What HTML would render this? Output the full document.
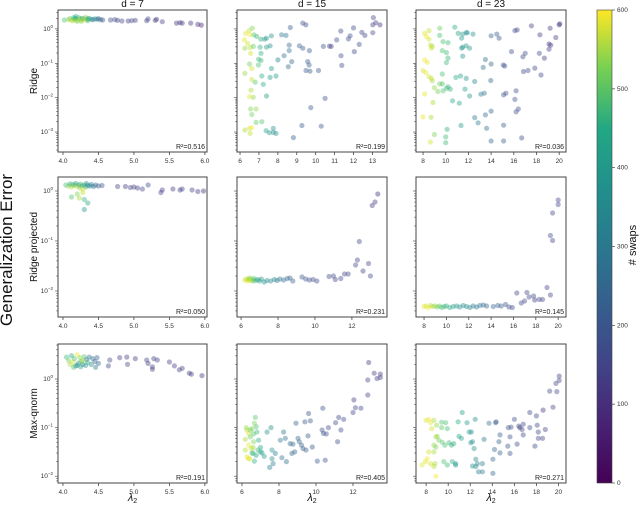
<!DOCTYPE html>
<html><head><meta charset="utf-8"><style>
body{margin:0;background:#fff}
svg{display:block;font-family:"Liberation Sans","DejaVu Sans",sans-serif}
</style></head><body>
<svg id="c" width="640" height="505" viewBox="0 0 640 505">
<defs><linearGradient id="vir" x1="0" y1="1" x2="0" y2="0">
<stop offset="0" stop-color="#440154"/><stop offset="0.13" stop-color="#482475"/><stop offset="0.25" stop-color="#414487"/><stop offset="0.38" stop-color="#355f8d"/><stop offset="0.5" stop-color="#2a788e"/><stop offset="0.63" stop-color="#21918c"/><stop offset="0.75" stop-color="#22a884"/><stop offset="0.88" stop-color="#7ad151"/><stop offset="1" stop-color="#fde725"/></linearGradient></defs>
<text x="12" y="250" font-size="17" fill="#111" text-anchor="middle" transform="rotate(-90 12 250)">Generalization Error</text>
<text x="636" y="245" font-size="11" fill="#111" text-anchor="middle" transform="rotate(-90 636 245)"># swaps</text>
</svg>
<script>
const colTitles=["d = 7","d = 15","d = 23"];
const rowTitles=["Ridge","Ridge projected","Max-qnorm"];
const r2Labels=["R²=0.516","R²=0.199","R²=0.036","R²=0.050","R²=0.231","R²=0.145","R²=0.191","R²=0.405","R²=0.271"];
const cbTicks=[0,100,200,300,400,500,600];
const xTicks1=[4.0,4.5,5.0,5.5,6.0];
const xTicks2a=[6,7,8,9,10,11,12,13];
const xTicks2b=[6,8,10,12];
const xTicks3=[8,10,12,14,16,18,20];
const yTicksR1=[0,-1,-2,-3];
const yTicksR23=[0,-1,-2];
// each point: [lambda2, log10(error), swaps]
const p11=[[4.02,0.26,420],[4.08,0.27,500],[4.1,0.3,450],[4.12,0.25,560],[4.15,0.32,380],[4.16,0.28,420],[4.18,0.3,360],[4.2,0.26,540],[4.22,0.33,400],[4.24,0.29,470],[4.25,0.25,580],[4.27,0.31,330],[4.28,0.27,520],[4.3,0.3,440],[4.32,0.34,500],[4.33,0.26,560],[4.35,0.29,300],[4.37,0.31,350],[4.4,0.28,320],[4.42,0.27,250],[4.45,0.29,280],[4.48,0.28,240],[4.5,0.3,220],[4.53,0.27,180],[4.56,0.26,150],[4.2,0.22,470],[4.14,0.24,530],[4.26,0.22,490],[4.35,0.24,400],[4.18,0.36,370],[4.67,0.26,130],[4.73,0.27,120],[4.77,0.25,110],[4.83,0.23,120],[4.92,0.23,110],[4.97,0.24,120],[5.02,0.25,110],[5.18,0.24,110],[5.2,0.29,120],[5.3,0.25,100],[5.32,0.28,110],[5.4,0.21,110],[5.6,0.17,100],[5.65,0.18,90],[5.68,0.17,100],[5.8,0.17,90],[5.9,0.13,80],[5.95,0.11,60]];
const p12=[[6.65,0.02,480],[6.48,-0.05,540],[6.3,-0.13,570],[6.53,-0.17,590],[6.74,-0.17,430],[6.88,-0.22,400],[7.1,-0.3,380],[7.3,-0.3,330],[7.4,-0.27,320],[7.66,-0.2,300],[6.23,-0.32,580],[6.4,-0.42,560],[6.53,-0.54,540],[6.26,-0.56,500],[6.7,-0.51,450],[7.06,-0.53,380],[7.4,-0.53,330],[7.59,-0.49,280],[7.11,-0.71,370],[6.56,-0.71,560],[6.98,-0.88,400],[7.11,-0.92,390],[6.5,-1.02,470],[6.97,-1.05,420],[6.62,-1.15,560],[7.66,-1.15,330],[6.26,-1.29,500],[7.15,-1.37,370],[7.59,-1.41,330],[7.9,-1.37,320],[6.62,-1.47,550],[6.8,-1.55,440],[7.23,-1.61,360],[6.58,-1.78,520],[6.5,-1.97,580],[6.7,-1.99,500],[7.4,-1.95,330],[6.56,-2.33,480],[6.85,-2.33,500],[6.62,-2.49,470],[6.85,-2.72,450],[7.15,-2.7,430],[6.26,-2.94,520],[6.5,-2.89,560],[6.62,-2.87,590],[6.53,-3.04,540],[7.38,-2.96,340],[7.55,-3.02,320],[7.76,-3.01,300],[7.76,-2.89,300],[7.9,-3.04,290],[8.0,-0.9,250],[8.33,-0.78,220],[8.2,-0.17,240],[8.43,-0.19,230],[8.6,-0.47,200],[8.6,-0.63,230],[8.55,-1.1,200],[8.73,-0.95,200],[8.66,0.04,170],[8.82,-3.16,180],[9.14,-0.49,180],[9.32,0.17,140],[9.48,0.12,130],[9.32,-0.56,170],[9.67,-0.63,170],[9.58,-0.95,170],[9.65,-1.05,170],[9.49,-1.21,170],[9.7,-1.23,170],[10.15,-1.21,160],[9.74,-2.29,170],[10.5,-2.02,150],[9.27,-2.81,170],[10.29,-2.83,160],[10.41,-0.51,150],[10.73,-0.5,130],[10.82,-0.51,110],[11.11,-0.32,130],[11.33,-0.06,130],[11.34,-0.78,140],[11.38,-1.06,140],[11.73,-0.29,130],[11.82,-0.2,130],[12.0,0.03,130],[12.04,-0.66,130],[12.3,-0.45,130],[12.44,-0.1,120],[12.6,-0.19,120],[13.02,-0.11,120],[13.05,0.33,120],[13.18,0.18,110],[13.02,0.12,110],[13.4,0.12,80]];
const p13=[[8.15,-0.13,570],[8.3,-0.22,590],[8.53,-0.05,540],[9.47,0.02,460],[9.47,-0.19,420],[8.53,-0.3,560],[8.65,-0.47,540],[8.82,-0.51,520],[8.74,-0.56,560],[9.76,-0.37,420],[10.2,-0.4,400],[9.7,-0.63,430],[10.06,-0.69,400],[10.2,-0.85,390],[10.06,-0.98,400],[8.15,-0.9,590],[8.38,-0.97,580],[8.0,-1.21,560],[8.24,-1.27,580],[8.53,-1.39,560],[8.74,-1.44,540],[8.82,-1.51,520],[9.7,-1.31,420],[9.47,-1.6,460],[9.7,-1.6,430],[9.0,-1.71,500],[9.3,-1.82,470],[9.76,-1.8,430],[10.06,-1.73,400],[10.2,-1.68,390],[10.4,-1.75,380],[8.15,-1.89,580],[8.88,-2.14,520],[10.6,-2.09,360],[11.2,-2.16,340],[10.9,-1.41,360],[11.3,-1.37,340],[11.8,-1.44,300],[11.7,-1.75,330],[12.1,-1.95,300],[12.55,-1.53,270],[13.1,-1.9,240],[13.3,-1.12,220],[13.5,-0.89,210],[14.0,-1.02,200],[13.97,-1.5,200],[13.4,-1.87,230],[13.5,-2.5,220],[14.0,-2.39,200],[12.55,-2.58,250],[12.85,-2.73,250],[13.6,-2.89,220],[11.35,-2.81,320],[10.12,-2.92,380],[9.0,-3.07,480],[10.0,-3.14,400],[10.0,-3.31,400],[8.65,-3.29,560],[8.0,-2.56,580],[8.7,-2.57,520],[11.1,-0.13,330],[11.5,-0.15,320],[11.8,-0.11,280],[11.9,-0.11,300],[12.4,-0.15,300],[11.4,-0.27,320],[11.5,-0.53,300],[11.4,-0.56,320],[11.8,-0.49,320],[12.1,-0.56,300],[11.5,-0.79,300],[10.8,0.05,360],[14.0,-0.2,180],[14.5,-0.15,170],[14.7,-0.27,160],[15.07,-1.05,160],[15.2,-1.08,150],[15.1,-1.92,160],[15.3,-1.87,150],[16.1,-2.05,150],[16.2,-1.8,140],[16.1,-0.05,130],[16.3,-0.03,130],[15.8,-0.66,140],[15.1,-2.8,170],[15.1,-3.26,170],[14.0,-3.26,190],[16.2,-2.41,140],[16.4,-2.33,140],[16.7,-3.17,140],[16.8,-0.81,130],[17.0,-0.71,130],[16.85,-1.24,130],[17.25,-1.21,130],[17.85,-1.14,120],[17.55,0.09,110],[18.4,-1.34,120],[18.25,-0.71,120],[18.3,-0.17,110],[18.7,-0.85,110],[19.1,-0.59,110],[19.1,-0.44,100],[19.25,-0.47,90],[19.2,0.02,100],[19.7,-0.25,110],[20.0,0.12,80],[20.05,0.15,70]];
const p21=[[4.04,0.12,420],[4.08,0.1,480],[4.1,0.14,360],[4.12,0.08,540],[4.14,0.13,400],[4.16,0.11,460],[4.18,0.15,330],[4.2,0.09,560],[4.22,0.12,300],[4.24,0.06,500],[4.25,0.14,440],[4.27,0.1,380],[4.28,0.04,580],[4.3,0.12,350],[4.32,0.08,420],[4.33,0.15,300],[4.35,0.11,250],[4.38,0.1,280],[4.4,0.13,240],[4.43,0.09,230],[4.46,0.12,200],[4.5,0.1,170],[4.55,0.11,150],[4.12,-0.12,430],[4.2,-0.06,480],[4.23,-0.14,520],[4.3,-0.17,390],[4.35,-0.24,360],[4.3,-0.37,320],[4.28,-0.03,540],[4.77,0.09,120],[4.88,0.09,110],[4.95,0.07,120],[5.0,0.08,100],[5.05,0.06,110],[5.12,0.04,120],[5.2,0.12,130],[5.38,-0.03,120],[5.4,0.02,100],[5.55,0.04,110],[5.65,0.02,110],[5.68,0.04,120],[5.82,0.02,110],[5.9,-0.01,100],[5.98,0.0,80]];
const p22=[[6.2,-1.78,560],[6.3,-1.76,540],[6.35,-1.8,580],[6.4,-1.77,520],[6.45,-1.74,500],[6.5,-1.79,560],[6.55,-1.76,470],[6.6,-1.78,590],[6.65,-1.8,450],[6.7,-1.75,420],[6.8,-1.79,380],[6.9,-1.77,350],[7.0,-1.8,330],[7.1,-1.76,320],[7.25,-1.82,300],[7.4,-1.79,290],[7.6,-1.8,270],[7.8,-1.77,260],[7.95,-1.79,240],[8.1,-1.76,230],[8.3,-1.78,210],[8.5,-1.75,200],[8.65,-1.74,190],[8.8,-1.8,180],[9.3,-1.72,160],[9.5,-1.76,150],[9.7,-1.78,140],[9.9,-1.77,140],[10.1,-1.8,130],[10.76,-1.71,130],[11.0,-1.7,120],[11.1,-1.77,120],[11.4,-1.75,120],[11.6,-1.66,120],[11.8,-1.66,120],[12.2,-1.48,120],[12.3,-1.38,120],[12.4,-1.01,120],[12.6,-1.6,120],[12.9,-1.45,120],[13.0,-1.7,120],[13.1,-0.29,110],[13.25,-0.22,110],[13.4,-0.06,80]];
const p23=[[8.0,-2.31,580],[8.2,-2.3,560],[8.4,-2.33,590],[8.6,-2.29,540],[8.8,-2.31,520],[9.0,-2.3,500],[9.2,-2.32,470],[9.4,-2.3,450],[9.6,-2.33,420],[9.8,-2.31,400],[10.0,-2.3,380],[10.3,-2.33,370],[10.6,-2.31,340],[10.9,-2.3,320],[11.2,-2.32,300],[11.5,-2.29,290],[11.8,-2.31,280],[12.1,-2.33,270],[12.4,-2.3,250],[12.7,-2.32,240],[13.0,-2.29,220],[13.3,-2.28,210],[13.6,-2.3,200],[14.2,-2.31,190],[14.6,-2.29,180],[14.9,-2.3,170],[15.3,-2.27,150],[15.6,-2.32,140],[15.9,-2.33,130],[16.3,-2.04,120],[17.2,-2.03,120],[17.4,-2.12,120],[17.8,-2.1,120],[17.9,-2.18,100],[18.3,-2.17,120],[18.6,-2.17,120],[19.0,-1.93,120],[19.3,-2.08,120],[19.3,-0.89,120],[19.5,-0.99,120],[19.5,-0.44,120],[20.0,-0.27,120],[20.0,-0.18,120],[17.0,-2.2,120],[16.7,-2.24,130]];
const p31=[[4.05,0.45,400],[4.08,0.38,470],[4.1,0.3,520],[4.12,0.48,360],[4.14,0.35,560],[4.16,0.42,420],[4.18,0.27,330],[4.2,0.5,590],[4.22,0.33,300],[4.24,0.44,480],[4.25,0.25,350],[4.27,0.38,540],[4.28,0.3,290],[4.3,0.46,440],[4.32,0.28,300],[4.33,0.4,250],[4.35,0.34,380],[4.37,0.45,230],[4.4,0.3,280],[4.42,0.42,220],[4.45,0.36,200],[4.48,0.44,180],[4.5,0.32,190],[4.46,0.24,240],[4.15,0.24,430],[4.2,0.28,300],[4.26,0.36,460],[4.64,0.27,130],[4.66,0.39,120],[4.8,0.44,110],[4.9,0.45,110],[4.91,0.3,120],[5.02,0.42,110],[5.18,0.39,120],[5.2,0.32,110],[5.26,0.25,110],[5.26,0.2,110],[5.28,0.42,110],[5.33,0.39,110],[5.5,0.35,110],[5.57,0.27,110],[5.64,0.19,110],[5.68,0.22,110],[5.78,0.12,110],[5.81,0.1,110],[5.96,0.07,80]];
const p32=[[6.27,-1.05,540],[6.23,-1.0,500],[6.36,-1.12,560],[6.18,-1.24,520],[6.45,-1.19,460],[6.63,-1.13,430],[6.72,-0.79,440],[6.77,-0.98,420],[6.54,-1.02,480],[6.81,-1.09,400],[6.36,-1.36,580],[6.49,-1.43,560],[6.63,-1.29,480],[6.9,-1.26,360],[6.18,-1.46,530],[6.27,-1.6,580],[6.41,-1.64,590],[6.6,-1.53,370],[6.54,-1.52,420],[6.77,-1.57,350],[7.0,-1.41,340],[7.08,-1.52,330],[7.2,-1.59,320],[6.67,-1.69,380],[6.6,-1.41,500],[6.36,-1.64,560],[6.86,-1.46,400],[7.0,-1.5,360],[6.45,-1.05,470],[6.67,-0.91,480],[7.35,-1.09,300],[7.57,-1.0,290],[7.62,-1.46,300],[7.62,-1.64,280],[7.5,-1.82,260],[7.68,-1.74,250],[7.8,-1.53,250],[8.07,-1.26,240],[8.25,-1.09,220],[8.34,-1.22,220],[8.16,-1.62,230],[8.4,-1.7,220],[8.6,-1.33,210],[8.75,-1.34,200],[8.7,-1.53,200],[8.85,-1.5,200],[8.92,-0.91,170],[9.03,-1.22,190],[9.1,-1.29,190],[9.22,-1.36,180],[9.3,-1.43,180],[9.46,-1.46,170],[9.4,-0.88,160],[9.6,-0.71,160],[9.7,-0.86,160],[9.57,-1.17,170],[9.8,-1.4,160],[10.07,-1.69,160],[10.33,-1.05,150],[10.4,-1.12,150],[10.37,-0.6,140],[10.56,-1.13,150],[10.5,-1.67,150],[10.67,-1.0,140],[11.06,-0.9,140],[11.17,-1.29,140],[11.23,-0.79,130],[11.35,-1.05,130],[11.5,-0.83,130],[12.0,-0.69,130],[12.05,-0.43,100],[12.13,-0.59,120],[12.43,-0.6,120],[12.8,-0.02,120],[12.8,-0.33,120],[12.85,0.34,110],[13.15,0.12,110],[13.3,0.01,110],[13.48,0.1,110],[13.48,0.03,110]];
const p33=[[8.0,-0.85,560],[8.24,-0.83,590],[8.4,-0.9,580],[8.7,-0.85,520],[8.5,-1.02,560],[8.94,-0.95,500],[8.88,-1.19,520],[9.0,-1.18,500],[8.7,-1.36,500],[8.88,-1.4,480],[9.16,-1.26,460],[8.24,-1.5,560],[8.7,-1.5,520],[8.1,-1.64,590],[7.63,-1.77,580],[7.94,-1.7,570],[8.4,-1.74,560],[8.8,-1.74,520],[8.88,-2.0,590],[8.7,-1.8,530],[9.4,-0.89,440],[9.4,-1.0,440],[9.77,-0.9,420],[9.92,-1.02,420],[9.46,-1.3,440],[9.7,-1.36,420],[10.07,-1.31,400],[10.3,-1.36,380],[10.5,-1.33,370],[9.6,-1.7,430],[9.92,-1.77,400],[10.37,-1.7,370],[10.67,-1.74,330],[10.67,-1.77,320],[10.9,-0.88,360],[10.98,-1.18,350],[11.2,-1.22,340],[11.27,-0.69,340],[11.7,-0.9,320],[11.9,-1.09,300],[12.1,-1.09,300],[12.2,-1.29,300],[12.45,-0.83,290],[12.05,-1.31,300],[12.35,-1.43,290],[12.5,-1.65,270],[12.65,-1.74,270],[12.5,-1.8,270],[12.2,-1.79,280],[12.75,-1.91,250],[13.1,-1.74,240],[13.25,-1.24,230],[13.1,-1.91,240],[13.7,-0.91,220],[14.3,-0.9,180],[14.35,-0.88,170],[14.2,-1.45,200],[14.05,-1.65,200],[14.05,-1.94,200],[14.6,-1.29,180],[14.7,-1.15,170],[14.7,-1.52,180],[15.4,-1.38,160],[15.6,-1.53,160],[15.6,-1.19,150],[15.45,-1.0,150],[15.7,-0.99,150],[16.0,-0.83,140],[16.25,-1.34,140],[16.4,-0.97,130],[16.5,-1.0,100],[16.7,-1.04,120],[16.8,-0.93,130],[16.8,-1.15,130],[17.4,-1.0,130],[17.4,-0.69,130],[17.86,-1.38,130],[18.0,-0.76,130],[18.07,-0.95,130],[18.17,-1.09,130],[18.56,-1.22,120],[18.6,-0.64,90],[18.8,-1.04,120],[19.5,-0.58,120],[19.2,-0.25,120],[19.85,-0.26,120],[19.76,-0.09,120],[20.06,-0.03,120],[20.06,0.06,110],[18.17,-1.22,120]];

const NS="http://www.w3.org/2000/svg";
const svg=document.getElementById('c');
function mk(tag,attrs,parent){const e=document.createElementNS(NS,tag);for(const k in attrs)e.setAttribute(k,attrs[k]);(parent||svg).appendChild(e);return e;}
const vir=[[68,1,84],[72,36,117],[65,68,135],[53,95,141],[42,120,142],[33,145,140],[34,168,132],[68,190,112],[122,209,81],[189,223,38],[253,231,37]];
function vcol(s){let t=Math.max(0,Math.min(1,s/600))*10;const i=Math.min(9,Math.floor(t)),f=t-i;const a=vir[i],b=vir[i+1];return 'rgb('+a.map((v,k)=>Math.round(v+(b[k]-v)*f)).join(',')+')';}
const cols=[{x0:58,x1:207},{x0:237,x1:387},{x0:416,x1:566}];
const rows=[{y0:10,y1:152,lmax:0.55,lmin:-3.58,yt:yTicksR1},{y0:177,y1:317,lmax:0.28,lmin:-2.52,yt:yTicksR23},{y0:344,y1:483,lmax:0.72,lmin:-2.14,yt:yTicksR23}];
const panels=[
 {r:0,c:0,d:p11,xmin:3.93,xmax:6.03,xt:xTicks1,fmt:1},{r:0,c:1,d:p12,xmin:5.84,xmax:13.77,xt:xTicks2a,fmt:0},{r:0,c:2,d:p13,xmin:7.38,xmax:20.6,xt:xTicks3,fmt:0},
 {r:1,c:0,d:p21,xmin:3.93,xmax:6.03,xt:xTicks1,fmt:1},{r:1,c:1,d:p22,xmin:5.78,xmax:13.9,xt:xTicks2b,fmt:0},{r:1,c:2,d:p23,xmin:7.28,xmax:20.7,xt:xTicks3,fmt:0},
 {r:2,c:0,d:p31,xmin:3.93,xmax:6.03,xt:xTicks1,fmt:1},{r:2,c:1,d:p32,xmin:5.73,xmax:13.84,xt:xTicks2b,fmt:0},{r:2,c:2,d:p33,xmin:7.08,xmax:20.68,xt:xTicks3,fmt:0}];
panels.forEach((p,i)=>{
 const C=cols[p.c],R=rows[p.r];
 const sx=v=>C.x0+(v-p.xmin)/(p.xmax-p.xmin)*(C.x1-C.x0);
 const sy=l=>R.y0+(R.lmax-l)/(R.lmax-R.lmin)*(R.y1-R.y0);
 const g=mk('g',{});
 
 
 p.d.forEach(pt=>{const cx=sx(pt[0]),cy=sy(pt[1]);if(cx<C.x0||cx>C.x1||cy<R.y0||cy>R.y1)return;
  const e=mk('circle',{cx:cx.toFixed(1),cy:cy.toFixed(1),r:2.6,fill:vcol(pt[2]),'fill-opacity':0.42},g);
  
  });
 const fr=mk('rect',{x:C.x0,y:R.y0,width:C.x1-C.x0,height:R.y1-R.y0,fill:'none',stroke:'#444','stroke-width':1},g);
 
 
 p.xt.forEach(t=>{const x=sx(t);mk('line',{x1:x,x2:x,y1:R.y1,y2:R.y1+3,stroke:'#444','stroke-width':0.8},g);
  const tx=mk('text',{x:x,y:R.y1+11,'font-size':6.5,'text-anchor':'middle',fill:'#333'},g);tx.textContent=p.fmt?t.toFixed(1):t;
  
  });
 for(let d=Math.floor(R.lmin);d<=Math.ceil(R.lmax);d++){
  for(let m=1;m<10;m++){const l=d+Math.log10(m);if(l<R.lmin||l>R.lmax)continue;const y=sy(l);
   mk('line',{x1:C.x0-(m==1?3:1.8),x2:C.x0,y1:y,y2:y,stroke:'#444','stroke-width':0.6},g);}}
 if(p.c===0){R.yt.forEach(t=>{const y=sy(t);const tx=mk('text',{x:C.x0-5,y:y+2,'font-size':6.5,'text-anchor':'end',fill:'#333'},g);
  tx.textContent='10';const ts=mk('tspan',{dy:-3,'font-size':4.5},tx);ts.textContent=(t===0?'0':'−'+(-t));
  
  });}
 const an=mk('text',{x:C.x1-2,y:R.y1-3,'font-size':7,'text-anchor':'end',fill:'#222'},g);an.textContent=r2Labels[i];
 
 
});
colTitles.forEach((t,c)=>{const C=cols[c];const e=mk('text',{x:(C.x0+C.x1)/2,y:7,'font-size':10,'text-anchor':'middle',fill:'#111'});e.textContent=t;
 
 });
rowTitles.forEach((t,r)=>{const R=rows[r];const yc=(R.y0+R.y1)/2;const e=mk('text',{x:37,y:yc,'font-size':10,'text-anchor':'middle',fill:'#111',transform:'rotate(-90 37 '+yc+')'});e.textContent=t;
 
 });
cols.forEach((C,c)=>{const e=mk('text',{x:(C.x0+C.x1)/2,y:501,'font-size':11,'text-anchor':'middle',fill:'#111','font-style':'italic'});e.textContent='λ';const s=mk('tspan',{dy:2,'font-size':7,'font-style':'normal'},e);s.textContent='2';
 
 });
const cb=mk('rect',{x:597,y:10,width:15,height:473,fill:'url(#vir)',stroke:'#444','stroke-width':0.6});


cbTicks.forEach(t=>{const y=483-t/600*473;mk('line',{x1:612,x2:615,y1:y,y2:y,stroke:'#444','stroke-width':0.7});
 const e=mk('text',{x:617,y:y+2,'font-size':6.5,fill:'#333'});e.textContent=t;
 
 });
</script>
</body></html>
